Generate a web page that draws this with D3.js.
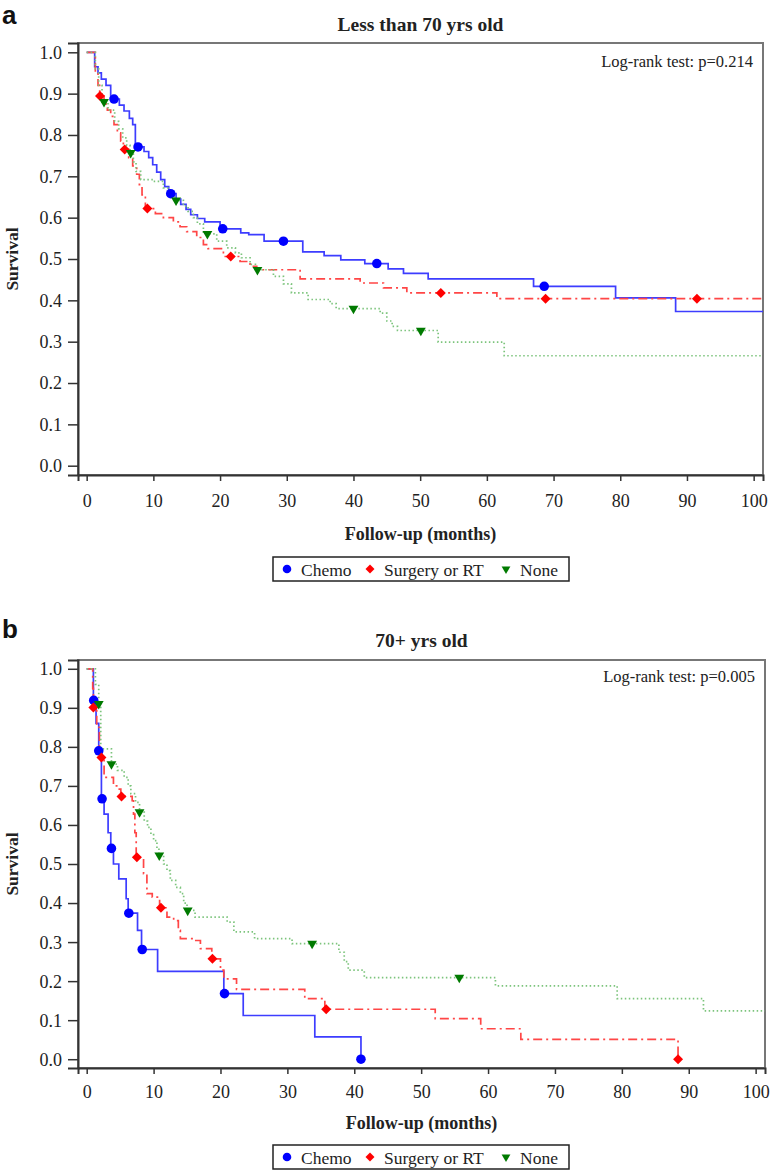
<!DOCTYPE html>
<html>
<head>
<meta charset="utf-8">
<title>Survival by treatment</title>
<script src="https://cdn.jsdelivr.net/npm/d3@7"></script>
<style>
  body { margin: 0; background: #fff; }
  text { font-family: "Liberation Serif", "Times New Roman", serif; fill: #222; }
</style>
</head>
<body>
<svg id="chart" width="772" height="1171"></svg>
<script>
// axis ticks
const timeTicks = [0, 10, 20, 30, 40, 50, 60, 70, 80, 90, 100];
const survTicks = [0, 0.1, 0.2, 0.3, 0.4, 0.5, 0.6, 0.7, 0.8, 0.9, 1.0];
const groups = ["Chemo", "Surgery or RT", "None"];
const panelLetters = ["a", "b"];
const panelTitles = ["Less than 70 yrs old", "70+ yrs old"];
const pValues = ["0.214", "0.005"];

// panel a : [month, survival] after each drop
const chemoA = [[0,1.0],[1.2,0.965],[1.7,0.95],[2.2,0.935],[2.9,0.92],[3.6,0.887],[4.9,0.872],[5.6,0.858],[6.4,0.84],[6.9,0.825],[7.3,0.771],[8.6,0.76],[9.3,0.745],[9.9,0.728],[10.5,0.71],[11.1,0.692],[11.7,0.675],[12.3,0.658],[13.4,0.645],[14.1,0.632],[14.9,0.62],[15.6,0.607],[16.6,0.598],[17.7,0.59],[20.0,0.573],[23.1,0.563],[24.3,0.559],[26.6,0.543],[32.4,0.517],[35.6,0.508],[38.1,0.498],[41.7,0.489],[45.2,0.476],[47.5,0.465],[51.2,0.452],[67.0,0.434],[79.3,0.406],[88.3,0.373]];
const surgeryA = [[0,1.0],[1.3,0.95],[1.7,0.92],[1.95,0.894],[2.6,0.875],[3.1,0.86],[3.6,0.845],[4.1,0.825],[4.6,0.805],[5.1,0.785],[5.5,0.765],[6.3,0.745],[6.9,0.725],[7.5,0.705],[7.9,0.68],[8.3,0.655],[8.8,0.622],[10.3,0.61],[11.5,0.60],[13.0,0.59],[14.0,0.578],[15.0,0.566],[16.5,0.552],[17.5,0.535],[18.2,0.525],[20.5,0.506],[23.0,0.494],[24.5,0.482],[25.5,0.474],[32.0,0.452],[41.0,0.442],[44.5,0.430],[48.0,0.418],[61.5,0.404]];
const noneA = [[0,1.0],[1.3,0.96],[1.8,0.92],[2.3,0.88],[3.2,0.86],[4.2,0.833],[4.8,0.815],[5.4,0.793],[6.0,0.775],[6.5,0.757],[7.0,0.735],[7.4,0.712],[8.1,0.692],[10.0,0.688],[11.5,0.672],[12.5,0.655],[13.2,0.642],[14.5,0.628],[15.2,0.615],[16.0,0.600],[16.6,0.585],[17.5,0.561],[19.5,0.543],[21.0,0.527],[22.3,0.515],[23.2,0.503],[24.5,0.487],[25.3,0.474],[28.0,0.458],[29.5,0.44],[30.7,0.418],[33.2,0.402],[36.5,0.392],[37.4,0.380],[44.0,0.369],[45.0,0.350],[45.8,0.337],[46.6,0.327],[52.7,0.299],[62.6,0.266]];
const chemoCensorA = [4.1, 7.7, 12.6, 20.4, 29.5, 43.5, 68.6];
const surgeryCensorA = [2.0, 5.7, 9.1, 21.6, 53.1, 68.8, 91.5];
const noneCensorA = [2.6, 6.6, 13.4, 18.1, 25.6, 40.0, 50.1];
const lastFollowA = [101.4, 101.4, 101.4];

// panel b
const chemoB = [[0,1.0],[1.0,0.919],[1.4,0.86],[1.8,0.79],[2.2,0.667],[2.6,0.628],[3.2,0.58],[3.6,0.540],[4.0,0.50],[4.8,0.462],[5.9,0.411],[6.2,0.374],[7.6,0.33],[8.2,0.281],[10.6,0.225],[20.5,0.168],[23.4,0.112],[34.1,0.057],[41.0,0.0]];
const surgeryB = [[0,1.0],[0.9,0.95],[1.0,0.901],[1.5,0.85],[1.9,0.80],[2.2,0.773],[2.6,0.722],[4.0,0.70],[4.7,0.692],[5.1,0.673],[6.8,0.662],[7.0,0.628],[7.2,0.58],[7.4,0.517],[8.5,0.475],[9.0,0.424],[9.8,0.415],[10.9,0.388],[12.0,0.364],[13.0,0.355],[13.7,0.33],[14.0,0.309],[16.0,0.304],[17.0,0.283],[18.7,0.257],[20.0,0.228],[20.5,0.206],[22.4,0.179],[32.6,0.155],[35.6,0.128],[52.1,0.104],[58.9,0.078],[64.9,0.051],[88.4,0.0]];
const noneB = [[0,1.0],[1.3,0.96],[1.8,0.91],[2.1,0.795],[3.7,0.756],[4.6,0.74],[5.6,0.722],[6.2,0.70],[6.6,0.68],[7.3,0.658],[7.9,0.633],[8.6,0.61],[9.1,0.594],[9.6,0.575],[10.0,0.56],[10.5,0.54],[10.8,0.522],[11.5,0.50],[12.0,0.483],[12.5,0.458],[13.3,0.44],[14.0,0.424],[14.5,0.40],[15.0,0.381],[16.2,0.364],[21.0,0.351],[22.0,0.326],[25.1,0.309],[30.7,0.296],[37.7,0.274],[38.5,0.25],[39.1,0.228],[41.5,0.209],[61.1,0.188],[79.3,0.155],[92.2,0.124]];
const chemoCensorB = [1.05, 1.8, 2.3, 3.7, 6.3, 8.3, 20.6, 41.0];
const surgeryCensorB = [1.0, 2.2, 5.2, 7.5, 11.1, 18.8, 35.8, 88.4];
const noneCensorB = [1.8, 3.7, 7.9, 10.85, 15.1, 33.7, 55.7];
const lastFollowB = [41.0, 88.4, 101.4];

// styles per group
const lineColors = ["#3d3dff", "#ff4646", "#7cc47c"];
const markColors = ["#0000ff", "#ff0000", "#007a00"];
const dashes = [null, "9,4,2,4", "1.5,2.5"];
const symbols = [d3.symbolCircle, d3.symbolSquare, d3.symbolTriangle];
const turns = [0, 45, 180];
const markSizes = [72, 50, 42];

const svg = d3.select("#chart");

const panels = [
  {top: 43, bottom: 475, right: 763, curves: [chemoA, surgeryA, noneA], censors: [chemoCensorA, surgeryCensorA, noneCensorA], ends: lastFollowA,
   letterY: 23.5, titleY: 30.5, pY: 66.5, tickY: 507, xTitleY: 540, legendY: 557},
  {top: 660, bottom: 1068, right: 765, curves: [chemoB, surgeryB, noneB], censors: [chemoCensorB, surgeryCensorB, noneCensorB], ends: lastFollowB,
   letterY: 638, titleY: 647, pY: 681.5, tickY: 1098, xTitleY: 1129, legendY: 1145}
];

panels.forEach((p, i) => drawPanel(p, i));

function stepValue(curve, t) {
  let v = curve[0][1];
  curve.forEach(d => { if (d[0] <= t) v = d[1]; });
  return v;
}

function drawPanel(p, i) {
  const left = 78;
  const x = d3.scaleLinear().domain([-1.3, 101.4]).range([left, p.right]);
  const y = d3.scaleLinear().domain([-0.0225, 1.0225]).range([p.bottom, p.top]);
  const g = svg.append("g");

  g.append("text").attr("x", 2).attr("y", p.letterY)
    .style("font-family", "'Liberation Sans', Arial, sans-serif")
    .style("font-weight", "bold").style("font-size", "26px").style("fill", "#111")
    .text(panelLetters[i]);

  g.append("text").attr("x", (left + p.right) / 2).attr("y", p.titleY)
    .attr("text-anchor", "middle").style("font-weight", "bold").style("font-size", "19.5px")
    .text(panelTitles[i]);

  // frame
  g.append("rect").attr("x", left).attr("y", p.top)
    .attr("width", p.right - left).attr("height", p.bottom - p.top)
    .attr("fill", "none").attr("stroke", "#777").attr("stroke-width", 2);

  const clipId = "clip" + i;
  g.append("clipPath").attr("id", clipId).append("rect")
    .attr("x", left).attr("y", p.top).attr("width", p.right - left).attr("height", p.bottom - p.top);

  // axes
  const yAxis = d3.axisLeft(y).tickValues(survTicks).tickFormat(d3.format(".1f")).tickSize(10).tickPadding(6);
  const ya = g.append("g").attr("transform", `translate(${left},0)`).call(yAxis);
  const xAxis = d3.axisBottom(x).tickValues(timeTicks).tickSize(6).tickPadding(0);
  const xa = g.append("g").attr("transform", `translate(0,${p.bottom})`).call(xAxis);
  [ya, xa].forEach(a => {
    a.select(".domain").attr("stroke", "#333").attr("stroke-width", 2);
    a.selectAll(".tick line").attr("stroke", "#333").attr("stroke-width", 1.5);
    a.selectAll(".tick text").style("font-family", "'Liberation Serif', serif")
      .style("font-size", "18px").attr("fill", "#222");
  });
  ya.selectAll(".tick text").attr("dy", "0.33em");
  xa.selectAll(".tick text").attr("dy", null).attr("y", p.tickY - p.bottom);

  g.append("text").attr("transform", `translate(18,${(p.top + p.bottom) / 2}) rotate(-90)`)
    .attr("text-anchor", "middle").style("font-weight", "bold").style("font-size", "17.5px")
    .text("Survival");
  g.append("text").attr("x", (left + p.right) / 2).attr("y", p.xTitleY)
    .attr("text-anchor", "middle").style("font-weight", "bold").style("font-size", "18px")
    .text("Follow-up (months)");
  g.append("text").attr("x", p.right - 10).attr("y", p.pY)
    .attr("text-anchor", "end").style("font-size", "16.5px")
    .text("Log-rank test: p=" + pValues[i]);

  // curves
  const line = d3.line().x(d => x(d[0])).y(d => y(d[1])).curve(d3.curveStepAfter);
  const plot = g.append("g").attr("clip-path", `url(#${clipId})`);
  p.curves.forEach((c, k) => {
    const pts = c.concat([[p.ends[k], c[c.length - 1][1]]]);
    plot.append("path").datum(pts).attr("d", line)
      .attr("fill", "none").attr("stroke", lineColors[k]).attr("stroke-width", 1.7)
      .attr("stroke-dasharray", dashes[k]);
  });
  p.censors.forEach((cs, k) => {
    plot.selectAll(null).data(cs).enter().append("path")
      .attr("d", d3.symbol().type(symbols[k]).size(markSizes[k]))
      .attr("transform", t => `translate(${x(t)},${y(stepValue(p.curves[k], t))}) rotate(${turns[k]})`)
      .attr("fill", markColors[k]);
  });

  // legend
  const lg = g.append("g").attr("transform", `translate(273,${p.legendY})`);
  lg.append("rect").attr("width", 296).attr("height", 24).attr("fill", "#fff")
    .attr("stroke", "#222").attr("stroke-width", 1.5);
  const itemX = [14, 97, 233];
  groups.forEach((name, k) => {
    lg.append("path").attr("d", d3.symbol().type(symbols[k]).size(markSizes[k] * 0.8))
      .attr("transform", `translate(${itemX[k]},12) rotate(${turns[k]})`)
      .attr("fill", markColors[k]);
    lg.append("text").attr("x", itemX[k] + 14).attr("y", 18.5).style("font-size", "17.5px")
      .text(name);
  });
}
</script>
</body>
</html>
